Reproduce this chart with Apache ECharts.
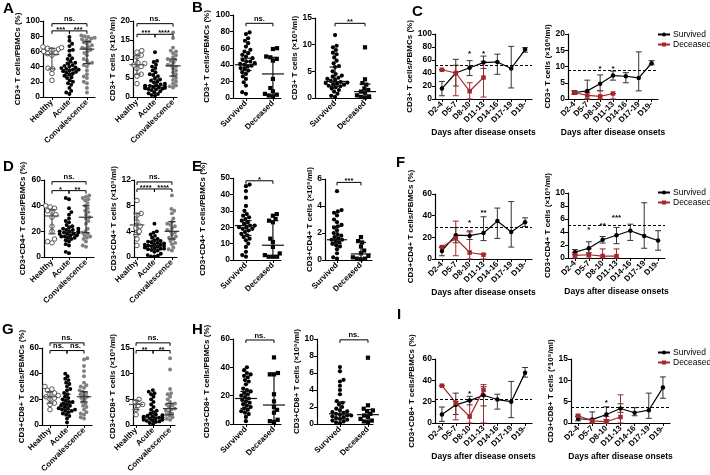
<!DOCTYPE html>
<html><head><meta charset="utf-8">
<script src="https://cdn.jsdelivr.net/npm/echarts@6/dist/echarts.min.js"></script>
<style>html,body{margin:0;padding:0;background:#fff}#c{width:710px;height:475px}</style>
</head><body><div id="c"></div>
<script>
// ---------------- DATA ----------------
const catsHAC = ['Healthy', 'Acute', 'Convalescence'];
const catsSD = ['Survived', 'Deceased'];
const days = ['D2-4', 'D5-7', 'D8-10', 'D11-13', 'D14-16', 'D17-19', 'D19-'];

// A: CD3+ T cells
const A1_healthy = [66, 65, 64, 63, 62, 60, 58, 57, 55, 38, 37, 31, 22];
const A1_acute = [79, 74, 70, 67, 62, 61, 55, 51, 50, 47, 45, 44, 42, 41, 40, 39, 38, 37, 36, 36, 35, 34, 33, 32, 31, 30, 28, 26, 25, 22, 20, 18, 16, 12, 8, 6, 4];
const A1_conv = [81, 80, 79, 78, 77, 76, 75, 73, 72, 70, 68, 66, 65, 64, 62, 60, 58, 55, 50, 48, 45, 44, 42, 40, 35, 30, 27, 25, 20, 18, 12, 6];
const A1_stats = [[56, 37, 64], [36, 28, 45], [63, 44, 73]];
const A1_sig = [[0, 2, 96.5, 'ns.'], [0, 1, 87, '***'], [1, 2, 87, '***']];

const A2_healthy = [12.2, 12, 11.8, 11, 10.5, 9, 8.8, 8.5, 8.4, 8, 7.5, 6, 5.5, 3.5];
const A2_acute = [11.8, 9.5, 9.2, 8.5, 8, 7.6, 7, 6.5, 6, 5.8, 5.5, 5, 4.6, 4.3, 4, 3.8, 3.5, 3.3, 3.1, 3.0, 2.9, 2.8, 2.7, 2.6, 2.5, 2.4, 2.3, 2.2, 2.1, 2.0, 1.8, 1.5, 1.2, 1.0, 0.8, 0.5, 0.3];
const A2_conv = [17, 15.5, 13, 12.2, 12, 11.5, 11, 10.5, 10, 9.8, 9.5, 9, 8.5, 8.3, 8, 7.5, 7, 6.5, 6, 5.5, 5, 4.5, 4, 3.5, 3, 2.8, 2.5];
const A2_stats = [[8.5, 6, 11], [3, 2.2, 4.7], [8.2, 5.5, 10]];
const A2_sig = [[0, 2, 19.3, 'ns.'], [0, 1, 16.5, '***'], [1, 2, 16.5, '****']];

// B
const B1_surv = [79, 77, 72, 69, 66, 62, 58, 56, 54, 52, 50, 48, 46, 44, 44, 42, 41, 40, 39, 38, 36, 35, 33, 31, 29, 26, 23, 19, 15, 7, 5];
const B1_dec = [60, 59, 50, 49, 47, 45, 23, 12, 8, 5, 4, 3, 2];
const B1_stats = [[40, 33, 48], [29, 3, 49]];
const B1_sig = [[0, 1, 90, 'ns.']];

const B2_surv = [11.8, 9.8, 9.5, 9, 8.5, 8.2, 7.6, 7, 6.5, 6, 5.8, 5, 4.5, 4.2, 4, 3.8, 3.6, 3.4, 3.2, 3.0, 2.9, 2.8, 2.7, 2.6, 2.5, 2.3, 2.2, 2.0, 1.8, 1.5, 1.2, 0.8, 0.4, 0.2];
const B2_dec = [9.5, 3.5, 2.8, 2.5, 1.8, 1.5, 1.2, 1.0, 0.5, 0.3, 0.2, 0.1];
const B2_stats = [[3.1, 2.2, 5.8], [1.2, 0.2, 2.6]];
const B2_sig = [[0, 1, 14, '**']];

// C
const C1_surv = [16, 40, 48, 56, 57, 47, 76];
const C1_survLo = [5, 20, 36, 47, 38, 17, 72];
const C1_survHi = [27, 61, 59, 66, 69, 81, 79];
const C1_dec = [45, 40, 12, 33];
const C1_decLo = [45, 5, 0, 3];
const C1_decHi = [45, 52, 25, 58];
const C1_ref = 52;
const C1_stars = [[2, 70, '*'], [3, 70, '*']];

const C2_surv = [2.0, 2.5, 4.7, 7.2, 7.0, 6.5, 11];
const C2_survLo = [1.5, 0, 2.5, 5.8, 5.0, 2.5, 10.5];
const C2_survHi = [2.5, 5.8, 7.4, 8.6, 8.1, 14.5, 11.8];
const C2_dec = [2.0, 1.1, 0.8, 1.7];
const C2_decLo = [1.5, 0, 0, 0];
const C2_decHi = [2.5, 2.0, 2.6, 1.7];
const C2_ref = 8.8;
const C2_stars = [[2, 9.4, '*'], [3, 9.4, '*']];

// D: CD3+CD4+
const D1_healthy = [40, 39, 38, 36, 35, 33, 31, 24, 20, 14, 12, 11];
const D1_acute = [46, 45, 38, 35, 33, 30, 28, 27, 25, 24, 23, 22, 22, 21, 21, 20, 20, 20, 19, 19, 18, 18, 18, 17, 17, 16, 16, 15, 15, 14, 13, 12, 10, 9, 4, 3];
const D1_conv = [48, 47, 46, 45, 44, 42, 40, 38, 36, 35, 33, 31, 30, 28, 26, 22, 20, 19, 18, 17, 16, 15, 14, 12, 9, 8];
const D1_stats = [[32, 18, 37], [19, 14, 24], [31, 19, 40]];
const D1_sig = [[0, 2, 58.7, 'ns.'], [0, 1, 51.7, '*'], [1, 2, 51.7, '**']];

const D2_healthy = [8.8, 7.2, 7.0, 6.8, 6.5, 5.5, 5.0, 4.8, 4.5, 4.0, 3.5, 2.8, 2.3, 1.8];
const D2_acute = [5.2, 4.0, 3.8, 3.5, 3.3, 3.0, 2.8, 2.6, 2.5, 2.4, 2.3, 2.2, 2.1, 2.0, 1.9, 1.9, 1.8, 1.7, 1.7, 1.6, 1.5, 1.5, 1.4, 1.3, 1.3, 1.2, 1.1, 1.0, 0.8, 0.5, 0.3, 0.2, 0.1, 0.1];
const D2_conv = [9.6, 7.5, 7.2, 6.8, 6.0, 5.5, 5.2, 5.0, 4.8, 4.5, 4.2, 4.0, 3.8, 3.5, 3.2, 3.0, 2.8, 2.5, 2.2, 2.0, 1.5, 1.2, 1.0];
const D2_stats = [[5, 3.5, 6.8], [1.7, 1.2, 2.5], [4, 2.8, 5.5]];
const D2_sig = [[0, 2, 11.7, 'ns.'], [0, 1, 10.6, '****'], [1, 2, 10.6, '****']];

// E
const E1_surv = [46, 45, 42, 38, 33, 30, 28, 27, 26, 25, 24, 23, 22, 21, 21, 20, 20, 19, 19, 18, 17, 16, 15, 14, 13, 12, 10, 8, 5, 3, 2];
const E1_dec = [28, 27, 25, 24, 23, 13, 11, 8, 4, 3, 2, 2, 2];
const E1_stats = [[21, 15, 24], [9, 2, 24]];
const E1_sig = [[0, 1, 48.3, '*']];

const E2_surv = [5.1, 3.7, 3.6, 3.5, 3.3, 3.0, 2.8, 2.6, 2.5, 2.4, 2.2, 2.0, 1.9, 1.8, 1.7, 1.6, 1.5, 1.5, 1.4, 1.3, 1.2, 1.1, 1.0, 0.8, 0.5, 0.2, 0.1];
const E2_dec = [1.7, 1.4, 1.3, 1.0, 0.7, 0.5, 0.3, 0.2, 0.1, 0.1, 0.05];
const E2_stats = [[1.5, 1.2, 2.5], [0.45, 0.1, 1.3]];
const E2_sig = [[0, 1, 5.75, '***']];

// F
const F1_surv = [7.5, 22, 21.5, 24, 35, 25, 34];
const F1_survLo = [3, 15, 18, 17, 19, 11, 30];
const F1_survHi = [11, 29, 26, 39, 47, 53, 38];
const F1_dec = [11, 19, 6, 4];
const F1_decLo = [11, 3, 0, 0];
const F1_decHi = [11, 35, 25, 4.5];
const F1_ref = 29.5;
const F1_stars = [[2, 33, '*'], [3, 43, '**']];

const F2_surv = [0.9, 1.5, 2.8, 3.5, 4.2, 3.4, 2.7];
const F2_survLo = [0.5, 0.8, 2.3, 2.2, 2.7, 1.5, 1.2];
const F2_survHi = [1.3, 2.5, 3.3, 4.7, 5.2, 8.5, 4.2];
const F2_dec = [0.4, 0.5, 0.3, 0.3];
const F2_decLo = [0, 0, 0, 0];
const F2_decHi = [0.8, 1.4, 1.4, 1.4];
const F2_ref = 5;
const F2_stars = [[1, 4.4, '*'], [2, 4.9, '**'], [3, 6.2, '***']];

// G: CD3+CD8+
const G1_healthy = [30, 28, 27, 25, 24, 23, 22, 21, 20, 17, 16, 12];
const G1_acute = [40, 38, 36, 35, 33, 32, 30, 28, 27, 25, 24, 22, 21, 20, 19, 18, 18, 17, 16, 15, 15, 14, 13, 13, 12, 12, 11, 11, 10, 9, 8, 7, 5, 2];
const G1_conv = [52, 51, 46, 42, 38, 33, 31, 30, 29, 27, 26, 25, 24, 23, 22, 21, 20, 18, 17, 15, 14, 12, 10, 9, 8, 6, 5];
const G1_stats = [[22, 17, 26], [17, 12, 24], [22, 18, 26]];
const G1_sig = [[0, 2, 64, 'ns.'], [0, 1, 58, 'ns.'], [1, 2, 58, 'ns.']];

const G2_healthy = [5.2, 5.0, 4.5, 4.2, 4.0, 3.8, 3.5, 3.0, 2.5, 2.0];
const G2_acute = [6.8, 6.5, 6.2, 6.0, 5.5, 5.0, 4.5, 4.0, 3.5, 3.0, 2.8, 2.5, 2.2, 2.0, 1.9, 1.8, 1.7, 1.6, 1.5, 1.5, 1.4, 1.3, 1.3, 1.2, 1.1, 1.0, 1.0, 0.9, 0.8, 0.7, 0.6, 0.4, 0.2];
const G2_conv = [13, 10.8, 7, 6.2, 6, 5.5, 5, 4.5, 4.2, 4.0, 3.8, 3.5, 3.2, 3.0, 2.8, 2.5, 2.3, 2.2, 2.0, 1.8, 1.6, 1.5, 1.2, 1.0];
const G2_stats = [[4, 3, 4.8], [1.4, 0.9, 2.5], [3.2, 2.0, 4.2]];
const G2_sig = [[0, 2, 16, 'ns.'], [0, 1, 14.5, '**'], [1, 2, 14.5, '**']];

// H
const H1_surv = [40, 38, 36, 35, 34, 33, 31, 30, 28, 25, 24, 23, 22, 21, 20, 19, 18, 17, 16, 15, 14, 13, 12, 11, 10, 9, 8, 7, 5, 2];
const H1_dec = [47, 36, 35, 35, 21, 16, 12, 10, 8, 3, 2, 1.5];
const H1_stats = [[18, 11, 23], [13.4, 2, 36]];
const H1_sig = [[0, 1, 59.3, 'ns.']];

const H2_surv = [6.7, 6.2, 5.2, 5.0, 4.5, 4.0, 3.5, 2.7, 2.5, 2.3, 2.0, 1.8, 1.6, 1.5, 1.4, 1.3, 1.2, 1.1, 1.0, 1.0, 0.9, 0.8, 0.7, 0.6, 0.5, 0.4, 0.3, 0.2, 0.1];
const H2_dec = [7.8, 2.2, 1.8, 1.6, 1.5, 1.2, 1.0, 0.8, 0.6, 0.4, 0.3, 0.2];
const H2_stats = [[1.2, 0.6, 2.6], [1.1, 0.4, 1.7]];
const H2_sig = [[0, 1, 9.9, 'ns.']];

// I
const I1_surv = [8, 17, 21, 26, 22, 20, 47];
const I1_survLo = [1.5, 8, 17, 16, 13, 5, 43];
const I1_survHi = [15, 28, 25, 34, 27, 39, 52];
const I1_dec = [35, 19, 6, 31];
const I1_decLo = [35, 3, 0, 0];
const I1_decHi = [35, 20, 21, 36];
const I1_ref = 22;
const I1_stars = [[2, 27, '*']];

const I2_surv = [1.0, 0.8, 2.0, 3.4, 2.4, 3.0, 8.3];
const I2_survLo = [0.5, 0, 0.8, 2.5, 1.7, 1.1, 5.8];
const I2_survHi = [1.5, 2.6, 3.8, 4.5, 3.6, 7.0, 10.8];
const I2_dec = [1.7, 0.5, 0.3, 1.4];
const I2_decLo = [1.5, 0, 0, 0];
const I2_decHi = [1.9, 1.0, 1.5, 6.6];
const I2_ref = 3.8;
const I2_stars = [[2, 4.7, '*']];

// ---------------- LAYOUT / STYLE ----------------
const FONT = 'Liberation Sans';
const RED = '#a3262a';
const LAY = {
  A1: {left: 43, top: 21, width: 52, height: 76, xmin: -0.51, xmax: 2.46, ymax: 100, yint: 20, ng: 15},
  A2: {left: 133, top: 21, width: 44, height: 76, xmin: -0.22, xmax: 2.22, ymax: 20, yint: 5, ng: 10},
  B1: {left: 233, top: 15, width: 48, height: 83, xmin: -0.48, xmax: 1.3, ymax: 100, yint: 20, ng: 22},
  B2: {left: 315, top: 18, width: 56, height: 80, xmin: -0.67, xmax: 1.2, ymax: 15, yint: 5, ng: 8},
  D1: {left: 44, top: 180, width: 50, height: 77, xmin: -0.47, xmax: 2.47, ymax: 60, yint: 20, ng: 17},
  D2: {left: 134, top: 180, width: 43, height: 77, xmin: -0.17, xmax: 2.29, ymax: 12, yint: 4, ng: 12},
  E1: {left: 233, top: 178, width: 48, height: 82, xmin: -0.48, xmax: 1.3, ymax: 50, yint: 10, ng: 26},
  E2: {left: 325, top: 179, width: 47, height: 81, xmin: -0.5, xmax: 1.46, ymax: 6, yint: 2, ng: 10},
  G1: {left: 42, top: 348, width: 50, height: 77, xmin: -0.47, xmax: 2.47, ymax: 60, yint: 20, ng: 16},
  G2: {left: 133, top: 348, width: 42, height: 77, xmin: -0.18, xmax: 2.29, ymax: 15, yint: 5, ng: 11},
  H1: {left: 233, top: 339, width: 48, height: 85, xmin: -0.46, xmax: 1.25, ymax: 60, yint: 20, ng: 22},
  H2: {left: 317, top: 339, width: 56, height: 85, xmin: -0.82, xmax: 1.18, ymax: 10, yint: 2, ng: 12},
  C1: {left: 435, top: 34, width: 97, height: 65, ymax: 100, yint: 20, ng: 19},
  C2: {left: 568, top: 34, width: 90, height: 65, ymax: 20, yint: 5, ng: 11},
  F1: {left: 435, top: 194, width: 97, height: 65, ymax: 60, yint: 20, ng: 20},
  F2: {left: 568, top: 193, width: 97, height: 65, ymax: 10, yint: 2, ng: 12},
  I1: {left: 435, top: 359, width: 97, height: 64, ymax: 60, yint: 20, ng: 19},
  I2: {left: 571, top: 359, width: 99, height: 64, ymax: 15, yint: 5, ng: 14}
};
const ST = {
  healthy: {symbol: 'circle', size: 4.6, color: '#fff', border: '#555', bw: 1, d: 4.6, bar: '#555'},
  acute: {symbol: 'circle', size: 3.9, color: '#000', border: '#000', bw: 0, d: 3.5, bar: '#111'},
  conv: {symbol: 'circle', size: 3.9, color: '#7f7f7f', border: '#7f7f7f', bw: 0, d: 3.5, bar: '#333'},
  surv: {symbol: 'circle', size: 4.2, color: '#000', border: '#000', bw: 0, d: 4.0, bar: '#111'},
  dec: {symbol: 'rect', size: 4.2, color: '#000', border: '#000', bw: 0, d: 4.2, bar: '#111'}
};

const txt = (size, weight) => ({fontFamily: FONT, fontSize: size, fontWeight: weight || 'bold', color: '#000'});
const AXLINE = {show: true, onZero: false, lineStyle: {color: '#000', width: 1.2}};

const grids = [], xAxes = [], yAxes = [], series = [];

function swarm(vals, cat, pxX, pxY, d, maxW) {
  const sorted = vals.slice().sort((a, b) => a - b);
  const placed = [], out = [];
  for (const v of sorted) {
    const py = v * pxY;
    const forb = [];
    for (const q of placed) {
      const dy = py - q.py;
      if (Math.abs(dy) < d) { const w = Math.sqrt(d * d - dy * dy); forb.push([q.px - w, q.px + w]); }
    }
    const cands = [0];
    forb.forEach(f => cands.push(f[0], f[1]));
    cands.sort((a, b) => Math.abs(a) - Math.abs(b) || (placed.length % 2 ? a - b : b - a));
    let px = 0;
    for (const c of cands) { if (forb.every(f => c <= f[0] + 1e-6 || c >= f[1] - 1e-6)) { px = c; break; } }
    px = Math.max(-maxW, Math.min(maxW, px));
    placed.push({py, px});
    out.push([cat + px / pxX, v]);
  }
  return out;
}

function addGrid(L) {
  grids.push({left: L.left, top: L.top, width: L.width, height: L.height, containLabel: false, outerBoundsMode: 'none'});
  return grids.length - 1;
}
function yAxisFor(gi, L, name) {
  return {gridIndex: gi, type: 'value', min: 0, max: L.ymax, interval: L.yint,
    name: name, nameLocation: 'middle', nameGap: L.ng, nameTextStyle: txt(8),
    splitLine: {show: false}, axisLine: AXLINE,
    axisTick: {show: true, length: 3, lineStyle: {color: '#000', width: 1}},
    axisLabel: Object.assign({margin: 3}, txt(8.5))};
}

function addScatterPanel(L, cats, groups, stats, sigs, yname) {
  const gi = addGrid(L);
  const pxX = L.width / (L.xmax - L.xmin), pxY = L.height / L.ymax;
  const idx = cats.map((c, i) => i);
  xAxes.push({gridIndex: gi, type: 'value', min: L.xmin, max: L.xmax, splitLine: {show: false},
    axisLine: AXLINE,
    axisTick: {show: true, customValues: idx, length: 3, lineStyle: {color: '#000', width: 1}},
    axisLabel: Object.assign({show: true, customValues: idx, formatter: v => cats[Math.round(v)] || '', rotate: 45, margin: 4}, txt(8))});
  yAxes.push(yAxisFor(gi, L, yname));
  const maxW = Math.min(0.55 * pxX, 13);
  groups.forEach((g, ci) => {
    const s = ST[g.style];
    series.push({type: 'scatter', xAxisIndex: gi, yAxisIndex: gi, silent: true, z: 3,
      symbol: s.symbol, symbolSize: s.size,
      itemStyle: {color: s.color, borderColor: s.border, borderWidth: s.bw, opacity: 1},
      data: swarm(g.values, ci, pxX, pxY, s.d, maxW)});
  });
  const hw = Math.min(0.42 * pxX, 11), cw = hw * 0.5;
  series.push({type: 'custom', xAxisIndex: gi, yAxisIndex: gi, silent: true, z: 5, clip: false,
    data: stats.map((s, i) => [i, s[0], s[1], s[2]]),
    renderItem: (params, api) => {
      const i = api.value(0);
      const col = ST[groups[i].style].bar;
      const pm = api.coord([i, api.value(1)]), pl = api.coord([i, api.value(2)]), ph = api.coord([i, api.value(3)]);
      const st = {stroke: col, lineWidth: 1.2};
      return {type: 'group', children: [
        {type: 'line', shape: {x1: pm[0] - hw, y1: pm[1], x2: pm[0] + hw, y2: pm[1]}, style: st},
        {type: 'line', shape: {x1: pl[0], y1: pl[1], x2: ph[0], y2: ph[1]}, style: st},
        {type: 'line', shape: {x1: pl[0] - cw, y1: pl[1], x2: pl[0] + cw, y2: pl[1]}, style: st},
        {type: 'line', shape: {x1: ph[0] - cw, y1: ph[1], x2: ph[0] + cw, y2: ph[1]}, style: st}
      ]};
    }});
  series.push({type: 'custom', xAxisIndex: gi, yAxisIndex: gi, silent: true, z: 6, clip: false,
    data: sigs.map(s => [s[0], s[2]]),
    renderItem: (params, api) => {
      const s = sigs[params.dataIndex];
      const p1 = api.coord([s[0], s[2]]), p2 = api.coord([s[1], s[2]]);
      const st = {stroke: '#000', lineWidth: 1};
      return {type: 'group', children: [
        {type: 'line', shape: {x1: p1[0], y1: p1[1], x2: p2[0], y2: p2[1]}, style: st},
        {type: 'line', shape: {x1: p1[0], y1: p1[1], x2: p1[0], y2: p1[1] + 3}, style: st},
        {type: 'line', shape: {x1: p2[0], y1: p2[1], x2: p2[0], y2: p2[1] + 3}, style: st},
        {type: 'text', x: (p1[0] + p2[0]) / 2, y: p1[1] + (s[3] === 'ns.' ? -0.5 : 3),
          style: {text: s[3], fill: '#000', fontFamily: FONT, fontSize: 7.5, fontWeight: 'bold', align: 'center', verticalAlign: 'bottom'}}
      ]};
    }});
}

function errSeries(gi, vals, lo, hi, col, z) {
  return {type: 'custom', xAxisIndex: gi, yAxisIndex: gi, silent: true, z: z, clip: false,
    data: vals.map((v, i) => [i, v, lo[i], hi[i]]),
    renderItem: (params, api) => {
      const i = api.value(0);
      const pl = api.coord([i, api.value(2)]), ph = api.coord([i, api.value(3)]);
      const st = {stroke: col, lineWidth: 1};
      return {type: 'group', children: [
        {type: 'line', shape: {x1: pl[0], y1: pl[1], x2: ph[0], y2: ph[1]}, style: st},
        {type: 'line', shape: {x1: pl[0] - 3, y1: pl[1], x2: pl[0] + 3, y2: pl[1]}, style: st},
        {type: 'line', shape: {x1: ph[0] - 3, y1: ph[1], x2: ph[0] + 3, y2: ph[1]}, style: st}
      ]};
    }};
}

function addLinePanel(L, d, yname) {
  const gi = addGrid(L);
  xAxes.push({gridIndex: gi, type: 'category', data: days, boundaryGap: true,
    name: 'Days after disease onsets', nameLocation: 'middle', nameGap: 29, nameTextStyle: txt(8.5),
    axisLine: AXLINE,
    axisTick: {show: true, alignWithLabel: true, interval: 0, length: 3, lineStyle: {color: '#000', width: 1}},
    axisLabel: Object.assign({interval: 0, rotate: 45, margin: 4}, txt(8))});
  yAxes.push(yAxisFor(gi, L, yname));
  series.push(errSeries(gi, d.surv, d.survLo, d.survHi, '#333', 3));
  series.push(errSeries(gi, d.dec, d.decLo, d.decHi, RED, 3));
  series.push({type: 'line', name: 'Survived', xAxisIndex: gi, yAxisIndex: gi, data: d.surv, silent: true, z: 4,
    symbol: 'circle', symbolSize: 4.5, itemStyle: {color: '#000'}, lineStyle: {color: '#000', width: 1.2},
    markLine: {silent: true, symbol: 'none', label: {show: false}, data: [{yAxis: d.ref}],
      lineStyle: {color: '#000', width: 1, type: [3, 2]}}});
  series.push({type: 'line', name: 'Deceased', xAxisIndex: gi, yAxisIndex: gi, data: d.dec, silent: true, z: 4,
    symbol: 'rect', symbolSize: 4.5, itemStyle: {color: RED}, lineStyle: {color: RED, width: 1.2}});
  series.push({type: 'custom', xAxisIndex: gi, yAxisIndex: gi, silent: true, z: 6, clip: false,
    data: d.stars.map(s => [s[0], s[1]]),
    renderItem: (params, api) => {
      const s = d.stars[params.dataIndex];
      const p = api.coord([s[0], s[1]]);
      return {type: 'text', x: p[0], y: p[1],
        style: {text: s[2], fill: '#000', fontFamily: FONT, fontSize: 8, fontWeight: 'bold', align: 'center', verticalAlign: 'middle'}};
    }});
}

// ---------------- BUILD ----------------
addScatterPanel(LAY.A1, catsHAC, [{values: A1_healthy, style: 'healthy'}, {values: A1_acute, style: 'acute'}, {values: A1_conv, style: 'conv'}], A1_stats, A1_sig, 'CD3+ T cells/PBMCs (%)');
addScatterPanel(LAY.A2, catsHAC, [{values: A2_healthy, style: 'healthy'}, {values: A2_acute, style: 'acute'}, {values: A2_conv, style: 'conv'}], A2_stats, A2_sig, 'CD3+ T cells (×10⁵/ml)');
addScatterPanel(LAY.B1, catsSD, [{values: B1_surv, style: 'surv'}, {values: B1_dec, style: 'dec'}], B1_stats, B1_sig, 'CD3+ T cells/PBMCs (%)');
addScatterPanel(LAY.B2, catsSD, [{values: B2_surv, style: 'surv'}, {values: B2_dec, style: 'dec'}], B2_stats, B2_sig, 'CD3+ T cells (×10⁵/ml)');
addScatterPanel(LAY.D1, catsHAC, [{values: D1_healthy, style: 'healthy'}, {values: D1_acute, style: 'acute'}, {values: D1_conv, style: 'conv'}], D1_stats, D1_sig, 'CD3+CD4+ T cells/PBMCs (%)');
addScatterPanel(LAY.D2, catsHAC, [{values: D2_healthy, style: 'healthy'}, {values: D2_acute, style: 'acute'}, {values: D2_conv, style: 'conv'}], D2_stats, D2_sig, 'CD3+CD4+ T cells (×10⁵/ml)');
addScatterPanel(LAY.E1, catsSD, [{values: E1_surv, style: 'surv'}, {values: E1_dec, style: 'dec'}], E1_stats, E1_sig, 'CD3+CD4+ T cells/PBMCs (%)');
addScatterPanel(LAY.E2, catsSD, [{values: E2_surv, style: 'surv'}, {values: E2_dec, style: 'dec'}], E2_stats, E2_sig, 'CD3+CD4+ T cells (×10⁵/ml)');
addScatterPanel(LAY.G1, catsHAC, [{values: G1_healthy, style: 'healthy'}, {values: G1_acute, style: 'acute'}, {values: G1_conv, style: 'conv'}], G1_stats, G1_sig, 'CD3+CD8+ T cells/PBMCs (%)');
addScatterPanel(LAY.G2, catsHAC, [{values: G2_healthy, style: 'healthy'}, {values: G2_acute, style: 'acute'}, {values: G2_conv, style: 'conv'}], G2_stats, G2_sig, 'CD3+CD8+ T cells (×10⁵/ml)');
addScatterPanel(LAY.H1, catsSD, [{values: H1_surv, style: 'surv'}, {values: H1_dec, style: 'dec'}], H1_stats, H1_sig, 'CD3+CD8+ T cells/PBMCs (%)');
addScatterPanel(LAY.H2, catsSD, [{values: H2_surv, style: 'surv'}, {values: H2_dec, style: 'dec'}], H2_stats, H2_sig, 'CD3+CD8+ T cells (×10⁵/ml)');

addLinePanel(LAY.C1, {surv: C1_surv, survLo: C1_survLo, survHi: C1_survHi, dec: C1_dec, decLo: C1_decLo, decHi: C1_decHi, ref: C1_ref, stars: C1_stars}, 'CD3+ T cells/PBMCs (%)');
addLinePanel(LAY.C2, {surv: C2_surv, survLo: C2_survLo, survHi: C2_survHi, dec: C2_dec, decLo: C2_decLo, decHi: C2_decHi, ref: C2_ref, stars: C2_stars}, 'CD3+ T cells (×10⁶/ml)');
addLinePanel(LAY.F1, {surv: F1_surv, survLo: F1_survLo, survHi: F1_survHi, dec: F1_dec, decLo: F1_decLo, decHi: F1_decHi, ref: F1_ref, stars: F1_stars}, 'CD3+CD4+ T cells/PBMCs (%)');
addLinePanel(LAY.F2, {surv: F2_surv, survLo: F2_survLo, survHi: F2_survHi, dec: F2_dec, decLo: F2_decLo, decHi: F2_decHi, ref: F2_ref, stars: F2_stars}, 'CD3+CD4+ T cells (×10⁵/ml)');
addLinePanel(LAY.I1, {surv: I1_surv, survLo: I1_survLo, survHi: I1_survHi, dec: I1_dec, decLo: I1_decLo, decHi: I1_decHi, ref: I1_ref, stars: I1_stars}, 'CD3+CD8+ T cells/PBMCs (%)');
addLinePanel(LAY.I2, {surv: I2_surv, survLo: I2_survLo, survHi: I2_survHi, dec: I2_dec, decLo: I2_decLo, decHi: I2_decHi, ref: I2_ref, stars: I2_stars}, 'CD3+CD8+ T cells (*10⁵/ml)');

const legendAt = top => ({left: 657, top: top, orient: 'vertical', selectedMode: false, data: ['Survived', 'Deceased'],
  itemWidth: 12, itemHeight: 5, itemGap: 1, padding: 0,
  textStyle: {fontFamily: FONT, fontSize: 8.5, color: '#000', lineHeight: 9, padding: [0, 0, 0, -2]}});

const letters = [['A', 3, 1], ['B', 192, 0], ['C', 412, 4], ['D', 3, 159], ['E', 192, 159], ['F', 396, 155], ['G', 2, 322], ['H', 192, 322], ['I', 397, 307]];

const chart = echarts.init(document.getElementById('c'), null, {renderer: 'canvas'});
chart.setOption({
  animation: false,
  backgroundColor: '#fff',
  grid: grids, xAxis: xAxes, yAxis: yAxes, series: series,
  legend: [legendAt(30), legendAt(188), legendAt(348)],
  graphic: letters.map(l => ({type: 'text', left: l[1], top: l[2], style: {text: l[0], fill: '#000', font: 'bold 15px "' + FONT + '"'}}))
});
</script></body></html>
